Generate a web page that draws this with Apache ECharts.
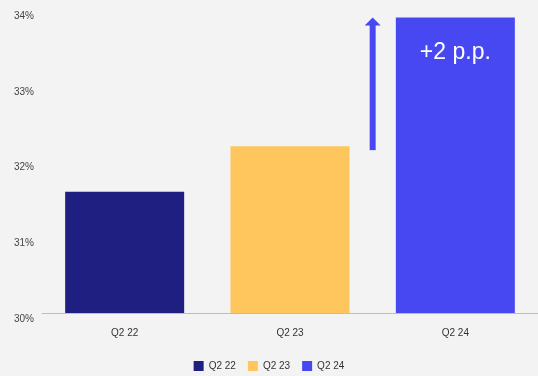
<!DOCTYPE html>
<html>
<head>
<meta charset="utf-8">
<script src="https://cdn.jsdelivr.net/npm/echarts@6/dist/echarts.min.js"></script>
<style>
	html, body { margin: 0; padding: 0; background: #f3f3f3; }
	#chart { width: 538px; height: 376px; }
</style>
</head>
<body>
<div id="chart"></div>
<script>
// data
const categories = ['Q2 22', 'Q2 23', 'Q2 24']
const shareValues = [31.6, 32.2, 33.9]
const barColors = ['#1f1f82', '#fec65c', '#4848f2']
const yTicks = [30, 31, 32, 33, 34]
const annotationText = '+2 p.p.'
// arrow drawn between Q2 23 and Q2 24, from/to in axis units
const arrowFrom = 32.15
const arrowTo = 33.9

const fontFamily = "'Liberation Sans', Arial, sans-serif"

const series = categories.map((name, i) => {
	const data = categories.map(() => '-')
	data[i] = shareValues[i]
	return {
		name: name,
		type: 'bar',
		stack: 'all',
		barWidth: 119,
		itemStyle: { color: barColors[i] },
		label: {
			show: i === categories.length - 1,
			position: 'insideTop',
			distance: 24,
			formatter: annotationText,
			color: '#ffffff',
			fontSize: 23,
			fontFamily: fontFamily,
		},
		data: data,
	}
})

const option = {
	backgroundColor: '#f3f3f3',
	animation: false,
	grid: {
		top: 10,
		left: 42,
		width: 498,
		bottom: 63,
	},
	legend: {
		data: categories,
		top: 356,
		left: 'center',
		icon: 'rect',
		itemWidth: 10,
		itemHeight: 10,
		itemGap: 12,
		textStyle: {
			fontFamily: fontFamily,
			fontSize: 10,
			color: '#333',
		},
	},
	xAxis: {
		type: 'category',
		data: categories,
		axisLine: { lineStyle: { color: '#bdbdbd', width: 1 } },
		axisTick: { show: false },
		axisLabel: {
			margin: 15,
			fontFamily: fontFamily,
			fontSize: 10,
			color: '#333',
		},
	},
	yAxis: {
		type: 'value',
		min: yTicks[0],
		max: yTicks[yTicks.length - 1],
		interval: 1,
		axisLine: { show: false },
		axisTick: { show: false },
		splitLine: { show: false },
		axisLabel: {
			margin: 8,
			verticalAlign: 'top',
			lineHeight: 12,
			fontFamily: fontFamily,
			fontSize: 10,
			color: '#444',
			formatter: '{value}%',
		},
	},
	series: series,
}

const myChart = echarts.init(document.getElementById('chart'))
myChart.setOption(option)

// arrow annotation positioned through the chart's own scales
const xa = myChart.convertToPixel({ xAxisIndex: 0 }, categories[1])
const xb = myChart.convertToPixel({ xAxisIndex: 0 }, categories[2])
const ax = (xa + xb) / 2
const yBottom = myChart.convertToPixel({ yAxisIndex: 0 }, arrowFrom)
const yTop = myChart.convertToPixel({ yAxisIndex: 0 }, arrowTo)
const headH = 8
const headW = 16
const shaftW = 6
myChart.setOption({
	graphic: [
		{
			type: 'rect',
			shape: { x: ax - shaftW / 2, y: yTop + headH - 1, width: shaftW, height: yBottom - yTop - headH + 1 },
			style: { fill: barColors[2] },
		},
		{
			type: 'polygon',
			shape: { points: [[ax, yTop], [ax - headW / 2, yTop + headH], [ax + headW / 2, yTop + headH]] },
			style: { fill: barColors[2] },
		},
	],
})
</script>
</body>
</html>
